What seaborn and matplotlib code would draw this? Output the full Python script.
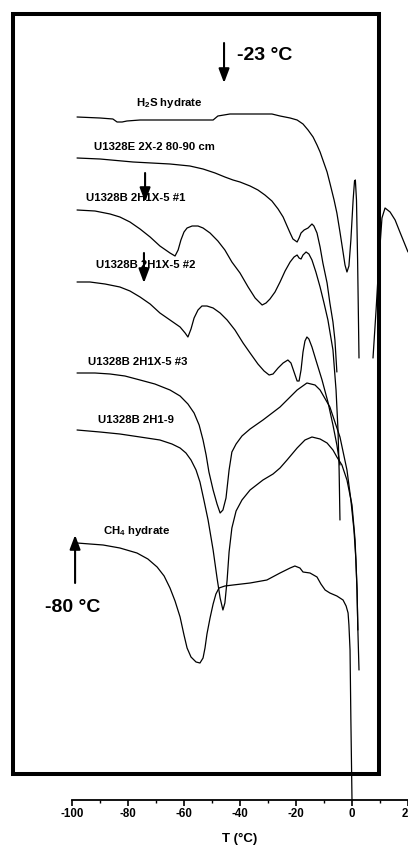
import matplotlib
matplotlib.use("Agg")
import matplotlib.pyplot as plt
import seaborn as sns
import pandas as pd
from matplotlib.patches import Rectangle, ArrowStyle

# ---- DSC traces: temperature (°C) and offset heat-flow signal (arb. units) ----
h2s_T = [-98.2, -90.0, -85.4, -83.9, -82.1, -80.4, -75.7, -49.6, -47.9, -43.6,
         -28.6, -25.7, -22.1, -19.6, -17.5, -15.7, -13.9, -12.5, -11.4, -10.4,
         -8.9, -7.9, -6.4, -5.4, -4.3, -3.2, -2.5, -1.8, -1.1, -0.4,
         0.4, 0.9, 1.2, 1.6, 2.0, 2.5]
h2s_S = [683, 682, 681, 678, 678, 679, 680, 680, 684, 686,
         686, 684, 682, 680, 676, 670, 663, 655, 648, 640,
         628, 617, 600, 587, 568, 548, 535, 528, 534, 560,
         600, 619, 620, 600, 540, 442]
h2s_hi_T = [7.5, 8.6, 9.6, 10.7, 11.8, 13.6, 15.4, 17.1, 20.0]
h2s_hi_S = [442, 490, 538, 582, 592, 588, 580, 568, 548]

e2x_T = [-98.2, -90.0, -78.2, -65.0, -57.9, -53.2, -48.9, -45.4, -42.5, -40.0,
         -36.4, -33.6, -31.1, -28.6, -26.4, -24.6, -23.2, -22.1, -21.1, -19.6,
         -18.9, -18.2, -17.1, -15.7, -14.3, -13.6, -12.5, -11.4, -10.4, -8.9,
         -7.9, -6.8, -6.1, -5.4]
e2x_S = [642, 641, 638, 636, 634, 631, 627, 623, 620, 618,
         614, 610, 605, 599, 591, 583, 574, 567, 561, 558,
         562, 567, 570, 572, 576, 574, 567, 553, 537, 517,
         497, 478, 460, 428]

b1_T = [-98.2, -91.8, -86.4, -82.9, -79.3, -75.7, -72.1, -68.6, -65.0, -63.2,
        -62.1, -61.1, -60.0, -58.9, -57.1, -55.0, -53.2, -50.7, -47.9, -45.4,
        -42.9, -40.0, -37.1, -34.6, -32.1, -30.7, -29.3, -27.5, -25.7, -23.9,
        -22.1, -20.7, -19.6, -18.9, -18.2, -17.5, -16.4, -15.4, -14.3, -12.9,
        -11.4, -10.0, -8.6, -6.8, -5.7, -5.0, -4.6, -4.3]
b1_S = [590, 589, 586, 583, 578, 571, 563, 554, 547, 544,
        550, 560, 568, 572, 574, 574, 572, 567, 559, 550,
        538, 527, 513, 502, 495, 497, 501, 508, 518, 529,
        538, 543, 545, 542, 541, 545, 548, 546, 540, 528,
        513, 497, 480, 450, 410, 370, 330, 280]

b2_T = [-98.2, -93.6, -88.2, -82.9, -79.3, -75.7, -72.1, -68.6, -65.0, -61.4,
        -59.6, -58.6, -57.5, -56.4, -55.0, -53.6, -51.8, -49.6, -47.1, -44.6,
        -41.8, -38.9, -36.4, -33.6, -31.4, -29.6, -28.2, -26.4, -24.6, -22.9,
        -21.8, -20.7, -19.6, -18.9, -18.2, -17.5, -16.8, -16.1, -15.4, -14.3,
        -12.9, -10.7, -8.6, -6.8, -5.4, -4.3]
b2_S = [518, 518, 516, 513, 509, 503, 496, 487, 480, 473,
        467, 463, 471, 482, 490, 494, 494, 492, 487, 480,
        470, 457, 447, 436, 429, 425, 426, 432, 437, 440,
        437, 428, 419, 419, 430, 448, 459, 463, 461, 453,
        440, 420, 398, 375, 355, 335]

b3_T = [-98.2, -91.8, -86.4, -81.1, -75.7, -70.4, -65.0, -61.4, -58.6, -56.4,
        -54.6, -53.2, -52.1, -51.1, -49.6, -48.2, -47.1, -46.1, -45.0, -43.9,
        -42.9, -41.4, -39.3, -36.4, -31.8, -25.7, -19.6, -16.1, -13.2, -11.4,
        -7.9, -4.3, -1.8, -0.4, 0.7, 1.4, 1.8, 2.1]
b3_S = [427, 427, 426, 424, 420, 416, 410, 404, 396, 387,
        375, 360, 345, 328, 310, 296, 287, 290, 302, 330,
        348, 356, 364, 371, 380, 393, 410, 417, 415, 410,
        393, 363, 330, 300, 270, 240, 210, 170]

b9_T = [-98.2, -90.0, -82.9, -75.7, -68.6, -64.3, -61.4, -59.3, -57.5, -55.7,
        -54.3, -52.9, -51.4, -49.6, -48.2, -47.1, -46.1, -45.4, -44.6, -43.9,
        -42.9, -41.4, -39.3, -36.4, -31.8, -28.2, -25.7, -23.2, -19.6, -16.8,
        -14.3, -11.4, -8.9, -6.8, -5.4, -3.6, -1.8, 0.0, 1.1, 1.8,
        2.1, 2.5]
b9_S = [370, 368, 366, 363, 360, 356, 352, 347, 340, 330,
        318, 300, 280, 250, 222, 202, 190, 197, 220, 248,
        272, 289, 300, 310, 320, 326, 332, 340, 352, 360,
        363, 361, 357, 350, 343, 335, 320, 295, 260, 210,
        170, 130]

ch4_T = [-98.2, -93.6, -88.9, -82.9, -76.8, -72.9, -69.6, -67.1, -65.0, -63.2,
         -61.4, -60.0, -58.9, -57.5, -55.7, -54.3, -53.2, -52.5, -51.8, -50.7,
         -49.6, -48.6, -47.5, -45.4, -42.5, -36.4, -30.4, -25.7, -22.1, -20.4,
         -18.6, -17.5, -15.0, -12.5, -11.1, -9.6, -7.9, -5.4, -3.2, -2.1,
         -1.4, -1.1, -0.7, -0.4, 0.0]
ch4_S = [257, 256, 255, 252, 247, 241, 233, 224, 212, 199,
         183, 165, 152, 143, 138, 137, 142, 152, 166, 182,
         196, 206, 212, 214, 215, 217, 220, 227, 232, 234,
         232, 228, 227, 223, 216, 210, 207, 204, 200, 194,
         187, 175, 150, 80, 0]

sample_names = ["H$_2$S hydrate", "U1328E 2X-2 80-90 cm", "U1328B 2H1X-5 #1",
                "U1328B 2H1X-5 #2", "U1328B 2H1X-5 #3", "U1328B 2H1-9", "CH$_4$ hydrate"]
label_T = [-65.4, -70.7, -77.3, -73.8, -76.6, -77.1, -77.1]
label_S = [697, 653, 602, 535, 438, 380, 269]

x_ticks = [-100, -80, -60, -40, -20, 0, 20]

segments = {
    "h2s": (h2s_T, h2s_S), "h2s_hi": (h2s_hi_T, h2s_hi_S),
    "e2x": (e2x_T, e2x_S), "b1": (b1_T, b1_S), "b2": (b2_T, b2_S),
    "b3": (b3_T, b3_S), "b9": (b9_T, b9_S), "ch4": (ch4_T, ch4_S),
}
df = pd.concat(
    [pd.DataFrame({"T": t, "signal": s, "segment": k}) for k, (t, s) in segments.items()],
    ignore_index=True,
)

sns.set_theme(style="white")
plt.rcParams["font.family"] = ["Liberation Sans", "DejaVu Sans"]
plt.rcParams["mathtext.fontset"] = "custom"
plt.rcParams["mathtext.rm"] = "Liberation Sans:bold"
plt.rcParams["mathtext.default"] = "rm"
plt.rcParams["axes.unicode_minus"] = False
plt.rcParams["text.color"] = "black"
plt.rcParams["axes.labelcolor"] = "black"
plt.rcParams["xtick.color"] = "black"

fig = plt.figure(figsize=(4.08, 8.46), dpi=100)
ax = fig.add_axes([72 / 408, 46 / 846, 336 / 408, 800 / 846])

sns.lineplot(data=df, x="T", y="signal", units="segment", estimator=None, sort=False,
             color="black", lw=0.9, ax=ax, legend=False)

ax.set_xlim(-100, 20)
ax.set_ylim(0, 800)
for side in ("left", "top", "right"):
    ax.spines[side].set_visible(False)
ax.spines["bottom"].set_linewidth(1.3)
ax.spines["bottom"].set_color("black")
ax.set_yticks([])
ax.set_xticks(x_ticks)
ax.set_xticks(range(-90, 20, 20), minor=True)
ax.tick_params(axis="x", which="major", direction="out", length=4, width=1.2,
               colors="black", labelsize=8.3, pad=2, bottom=True)
ax.tick_params(axis="x", which="minor", direction="out", length=2.5, width=1.0,
               colors="black", bottom=True)
for lab in ax.get_xticklabels():
    lab.set_fontweight("bold")
ax.set_xlabel("T (°C)", fontsize=9.5, fontweight="bold", labelpad=9, color="black")
ax.set_ylabel("")
ax.grid(False)

for name, tx, sy in zip(sample_names, label_T, label_S):
    ax.text(tx, sy, name, ha="center", va="center", fontsize=8.2,
            fontweight="bold", color="black")

head = ArrowStyle("-|>", head_length=0.85, head_width=0.32)
arrows = [(-45.7, 757, 717), (-73.9, 627, 598), (-74.3, 547, 517), (-98.9, 217, 265)]
for tx, s0, s1 in arrows:
    ax.annotate("", xy=(tx, s1), xytext=(tx, s0),
                arrowprops=dict(arrowstyle=head, color="black", lw=1.5,
                                mutation_scale=10, shrinkA=0, shrinkB=0))

ax.text(-41.1, 745, "-23 °C", ha="left", va="center", fontsize=14,
        fontweight="bold", color="black")
ax.text(-99.6, 193, "-80 °C", ha="center", va="center", fontsize=14,
        fontweight="bold", color="black")

fig.add_artist(Rectangle((12.7 / 408, 72 / 846), 366.6 / 408, 760 / 846,
                         transform=fig.transFigure, fill=False, lw=2.9,
                         ec="black", zorder=5))

fig.savefig("out.png", dpi=100, facecolor="white")
